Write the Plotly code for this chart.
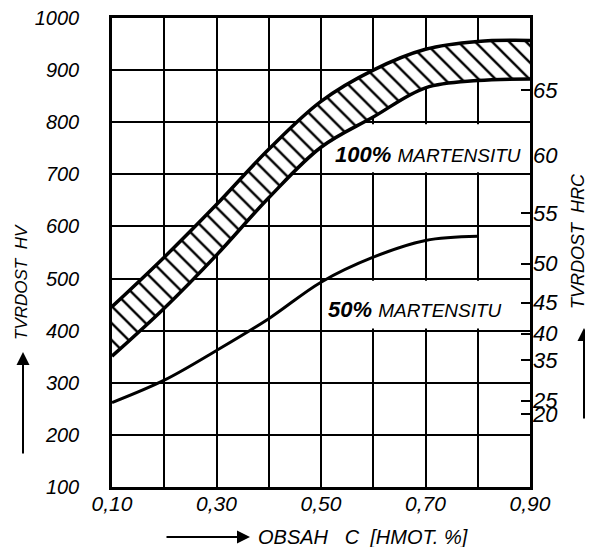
import plotly.graph_objects as go

# ---- data ----
carbon = [0.10, 0.20, 0.30, 0.40, 0.50, 0.60, 0.70, 0.80, 0.90]
hv_100_upper = [446, 541, 642, 748, 840, 900, 940, 955, 957]
hv_100_lower = [351, 443, 545, 655, 752, 810, 866, 880, 883]
carbon_50 = [0.10, 0.20, 0.30, 0.40, 0.50, 0.60, 0.70, 0.80]
hv_50 = [262, 305, 362, 423, 493, 541, 573, 581]

x_tick_vals = [0.10, 0.20, 0.30, 0.40, 0.50, 0.60, 0.70, 0.80, 0.90]
x_tick_text = ["0,10", "", "0,30", "", "0,50", "", "0,70", "", "0,90"]
hv_ticks = [100, 200, 300, 400, 500, 600, 700, 800, 900, 1000]
hrc_tick_hv = [861, 625, 528.6, 453.7, 394, 343, 266, 239.5]
hrc_tick_text = ["65", "55", "50", "45", "40", "35", "25", "20"]
hrc_untick_hv = [737]
hrc_untick_text = ["60"]

# ---- layout geometry (page pixels; the page body has an 8px margin) ----
BODY = 8
W, H = 593 - BODY, 547 - BODY
L, R, T, B = 112, 530, 18, 487          # plot area in page pixels
def px(x):
    return (x - L) / (R - L)
def py(y):
    return (B - y) / (B - T)

FONT = "Liberation Sans, Arial, sans-serif"

fig = go.Figure()

fig.add_trace(go.Scatter(
    x=carbon, y=hv_100_lower, mode="lines",
    line=dict(color="black", width=3.5, shape="spline", smoothing=1.0),
    showlegend=False, hoverinfo="skip"))
fig.add_trace(go.Scatter(
    x=carbon, y=hv_100_upper, mode="lines",
    line=dict(color="black", width=3.5, shape="spline", smoothing=1.0),
    fill="tonexty", fillcolor="white",
    fillpattern=dict(shape="\\", size=12, solidity=0.2,
                     fgcolor="black", bgcolor="white", fillmode="replace"),
    showlegend=False, hoverinfo="skip"))
fig.add_trace(go.Scatter(
    x=carbon_50, y=hv_50, mode="lines",
    line=dict(color="black", width=3, shape="spline", smoothing=1.0),
    showlegend=False, hoverinfo="skip"))

# white boxes behind the labels (cut the grid)
fig.add_shape(type="rect", x0=0.525, x1=0.897, y0=704, y1=796, xref="x", yref="y",
              fillcolor="white", line=dict(width=0), layer="between")
fig.add_shape(type="rect", x0=0.515, x1=0.897, y0=404, y1=496, xref="x", yref="y",
              fillcolor="white", line=dict(width=0), layer="between")

ann = []
ann.append(dict(x=0.5225, y=738, xref="x", yref="y", xanchor="left", yanchor="middle",
                showarrow=False,
                text="<b>100%</b> <span style='font-size:19px'>MARTENSITU</span>",
                font=dict(family=FONT, size=22, color="black", style="italic")))
ann.append(dict(x=0.509, y=441, xref="x", yref="y", xanchor="left", yanchor="middle",
                showarrow=False,
                text="<b>50%</b> <span style='font-size:19px'>MARTENSITU</span>",
                font=dict(family=FONT, size=22, color="black", style="italic")))
# axis titles
ann.append(dict(x=px(21), y=py(282), xref="paper", yref="paper", showarrow=False,
                xanchor="center", yanchor="middle", borderpad=0,
                text="TVRDOST  HV", textangle=-90,
                font=dict(family=FONT, size=17, color="black", style="italic")))
ann.append(dict(x=px(578), y=py(241), xref="paper", yref="paper", showarrow=False,
                xanchor="center", yanchor="middle", borderpad=0,
                text="TVRDOST  HRC", textangle=-90,
                font=dict(family=FONT, size=18, color="black", style="italic")))
ann.append(dict(x=px(256), y=py(537), xref="paper", yref="paper", showarrow=False,
                xanchor="left", yanchor="middle",
                text="OBSAH   C  [HMOT. %]",
                font=dict(family=FONT, size=20, color="black", style="italic")))
# arrows
ann.append(dict(x=px(23), y=py(352), xref="paper", yref="paper", text="",
                showarrow=True, ax=0, ay=103, arrowhead=2, arrowsize=1.3,
                arrowwidth=2, arrowcolor="black"))
ann.append(dict(x=px(584), y=py(328), xref="paper", yref="paper", text="",
                showarrow=True, ax=0, ay=92, arrowhead=2, arrowsize=1.3,
                arrowwidth=2, arrowcolor="black"))
ann.append(dict(x=px(250), y=py(537), xref="paper", yref="paper", text="",
                showarrow=True, ax=-85, ay=0, arrowhead=2, arrowsize=1.3,
                arrowwidth=2, arrowcolor="black"))

fig.update_layout(
    width=W, height=H,
    margin=dict(l=L - BODY, r=593 - R, t=T - BODY, b=547 - B, pad=0, autoexpand=False),
    paper_bgcolor="white", plot_bgcolor="white",
    showlegend=False,
    annotations=ann,
    xaxis=dict(range=[0.10, 0.90], tickvals=x_tick_vals, ticktext=x_tick_text,
               automargin=False, ticklabeloverflow="allow",
               showgrid=True, gridcolor="black", gridwidth=2,
               showline=True, linecolor="black", linewidth=2.5, mirror=True,
               zeroline=False, ticks="", ticklabelstandoff=-4,
               tickfont=dict(family=FONT, size=21, color="black", style="italic")),
    yaxis=dict(range=[100, 1000], tickvals=hv_ticks, automargin=False,
               ticklabeloverflow="allow",
               showgrid=True, gridcolor="black", gridwidth=2,
               showline=True, linecolor="black", linewidth=2.5, mirror=True,
               zeroline=False, ticks="", ticklabelstandoff=26,
               tickfont=dict(family=FONT, size=20, color="black", style="italic")),
    yaxis2=dict(range=[100, 1000], overlaying="y", side="right", automargin=False,
                tickvals=hrc_tick_hv, ticktext=hrc_tick_text,
                ticks="inside", ticklen=9, tickwidth=2, tickcolor="black",
                showgrid=False, zeroline=False, showline=False,
                ticklabelstandoff=2,
                tickfont=dict(family=FONT, size=22, color="black", style="italic")),
    yaxis3=dict(range=[100, 1000], overlaying="y", side="right", automargin=False,
                tickvals=hrc_untick_hv, ticktext=hrc_untick_text,
                ticks="", showgrid=False, zeroline=False, showline=False,
                ticklabelstandoff=2,
                tickfont=dict(family=FONT, size=22, color="black", style="italic")),
)

# invisible traces to activate the right-hand axes
fig.add_trace(go.Scatter(x=[None], y=[None], yaxis="y2", showlegend=False, hoverinfo="skip"))
fig.add_trace(go.Scatter(x=[None], y=[None], yaxis="y3", showlegend=False, hoverinfo="skip"))

fig.write_html("out.html")
